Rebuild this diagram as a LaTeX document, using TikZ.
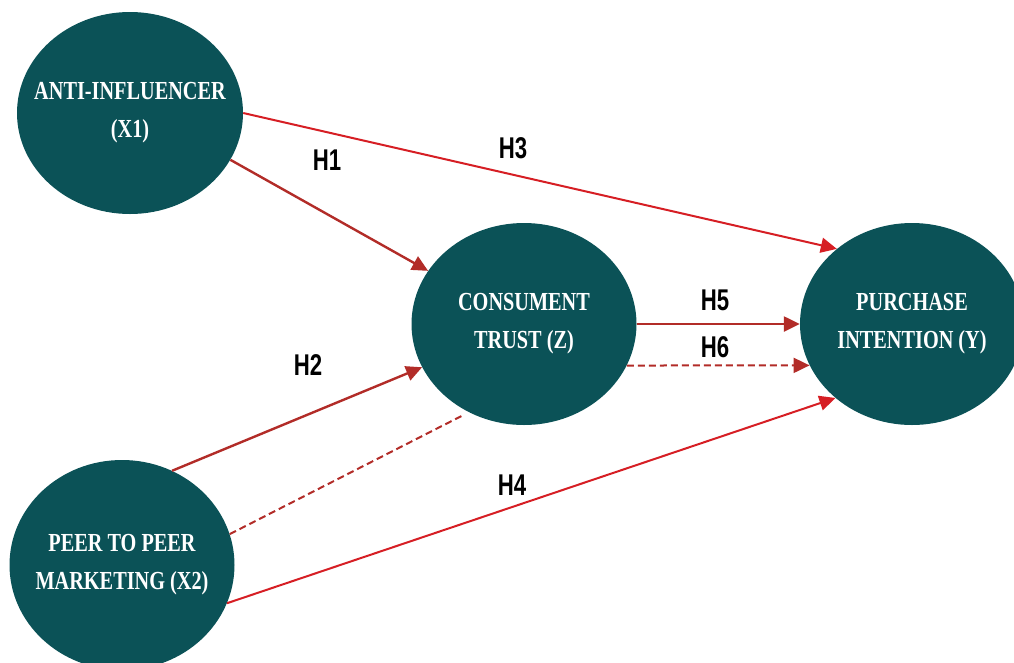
\documentclass[tikz,border=0pt]{standalone}
\usepackage{fontspec}
\newfontfamily\varfont[FakeStretch=0.78]{Liberation Serif}
\newfontfamily\hypfont[FakeStretch=0.74]{Liberation Sans}
\usetikzlibrary{shapes.geometric}
\usetikzlibrary{arrows.meta}
\definecolor{varteal}{RGB}{11,82,87}
\definecolor{pathred}{RGB}{214,30,36}
\definecolor{deepred}{RGB}{178,44,40}

\begin{document}
\begin{tikzpicture}[x=1pt, y=-1pt,
    construct/.style = {ellipse, fill=varteal, inner xsep=-30pt, inner ysep=0pt, align=center,
                       text=white, font=\varfont\bfseries\fontsize{26}{38}\selectfont},
    hyp/.style      = {font=\hypfont\bfseries\fontsize{30}{32}\selectfont},
    direct/.style   = {draw=pathred, line width=2pt, -{Triangle[length=16pt,width=15pt]}},
    via/.style      = {draw=deepred, line width=2.4pt, -{Triangle[length=16pt,width=15pt]}},
    mediated/.style = {draw=deepred, line width=2pt, dash pattern=on 7pt off 4pt}]
    \useasboundingbox (0,0) rectangle (1014,662);

    % draw nodes
    \node[construct, minimum width=226pt, minimum height=202pt] (x1) at (130,113)
      {ANTI-INFLUENCER\\(X1)};
    \node[construct, minimum width=225pt, minimum height=210pt] (x2) at (122,565)
      {PEER TO PEER\\MARKETING (X2)};
    \node[construct, minimum width=225pt, minimum height=202pt] (z) at (524,324)
      {CONSUMENT\\TRUST (Z)};
    \node[construct, minimum width=224pt, minimum height=202pt] (y) at (912,324)
      {PURCHASE\\INTENTION (Y)};

    % draw paths
    \draw[direct] (x1.east) -- (y.135);
    \draw[via] (x1.-25) -- (z.151);
    \draw[via] (x2.62) -- (z.203);
    \draw[mediated, shorten >=8pt] (x2.16) -- (z.238);
    \draw[direct] (x2.-20) -- (y.224);
    \draw[via] (z.east) -- (y.west);
    \draw[mediated, -{Triangle[length=16pt,width=15pt]}] (z.-22) -- (y.202);

    % draw labels
    \node[hyp] (h1) at (327,160) {H1};
    \node[hyp] (h2) at (308,365) {H2};
    \node[hyp] (h3) at (513,148) {H3};
    \node[hyp] (h4) at (512,485) {H4};
    \node[hyp] (h5) at (715,300) {H5};
    \node[hyp] (h6) at (715,347) {H6};
  \end{tikzpicture}
\end{document}
